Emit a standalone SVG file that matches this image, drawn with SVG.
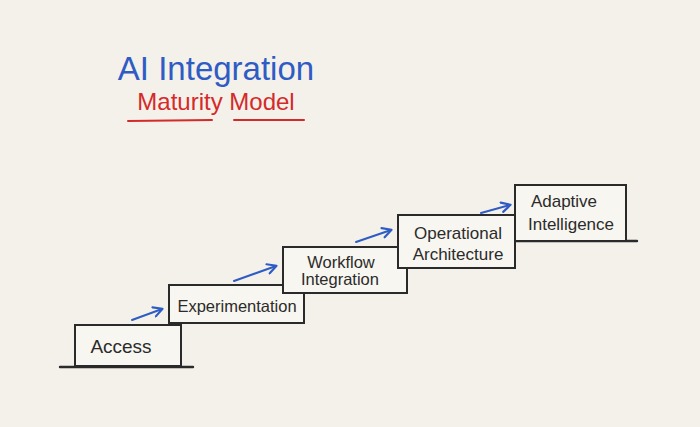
<svg xmlns="http://www.w3.org/2000/svg" width="700" height="427" viewBox="0 0 700 427">
<defs>
<style>
.box{fill:#f8f6f0;stroke:#2a2a2a;stroke-width:2}
.lbl{font-family:"Liberation Sans","DejaVu Sans",sans-serif;fill:#2b2b2b;text-anchor:middle}
.arr{fill:none;stroke:#2f5cc4;stroke-width:2;stroke-linecap:round;marker-end:url(#ah)}
.ground{stroke:#2a2a2a;stroke-width:2.4;stroke-linecap:round}
</style>
<marker id="ah" viewBox="0 0 10 10" refX="8" refY="5" markerWidth="6" markerHeight="6" orient="auto" markerUnits="strokeWidth">
<path d="M1,1 L8.5,5 L1,9" fill="none" stroke="#2f5cc4" stroke-width="1.8" stroke-linecap="round" stroke-linejoin="round"/>
</marker>
</defs>
<rect width="700" height="427" fill="#f4f1ea"/>
<g id="title">
<text x="216" y="80" font-family="Liberation Sans,DejaVu Sans,sans-serif" font-size="33" fill="#2f5cc4" text-anchor="middle">AI Integration</text>
<text x="216" y="110" font-family="Liberation Sans,DejaVu Sans,sans-serif" font-size="24" fill="#d42a2a" text-anchor="middle">Maturity Model</text>
<line x1="128" y1="121" x2="212" y2="120" stroke="#d42a2a" stroke-width="2" stroke-linecap="round"/>
<line x1="234" y1="120" x2="304" y2="120" stroke="#d42a2a" stroke-width="2" stroke-linecap="round"/>
</g>
<g id="ground">
<line class="ground" x1="60" y1="367" x2="193" y2="367"/>
<line class="ground" x1="515" y1="241" x2="637" y2="241"/>
</g>
<g id="access">
<rect class="box" x="75" y="325" width="106" height="41"/>
<text class="lbl" x="121" y="353" font-size="19">Access</text>
</g>
<g id="experimentation">
<rect class="box" x="169" y="285" width="135" height="38"/>
<text class="lbl" x="237" y="312" font-size="16.5">Experimentation</text>
</g>
<g id="workflow">
<rect class="box" x="283" y="247" width="124" height="46"/>
<text class="lbl" x="341" y="268" font-size="16.5">Workflow</text>
<text class="lbl" x="340" y="285" font-size="16.5">Integration</text>
</g>
<g id="operational">
<rect class="box" x="398" y="215" width="117" height="53"/>
<text class="lbl" x="458" y="239" font-size="17">Operational</text>
<text class="lbl" x="458" y="260" font-size="17">Architecture</text>
</g>
<g id="adaptive">
<rect class="box" x="515" y="185" width="111" height="56"/>
<text class="lbl" x="564" y="207" font-size="17">Adaptive</text>
<text class="lbl" x="571" y="230" font-size="17">Intelligence</text>
</g>
<g id="connectors">
<line class="arr" x1="132" y1="320" x2="162" y2="309"/>
<line class="arr" x1="234" y1="281" x2="276" y2="266"/>
<line class="arr" x1="356" y1="242" x2="391" y2="230"/>
<line class="arr" x1="481" y1="213" x2="510" y2="205"/>
</g>
</svg>
